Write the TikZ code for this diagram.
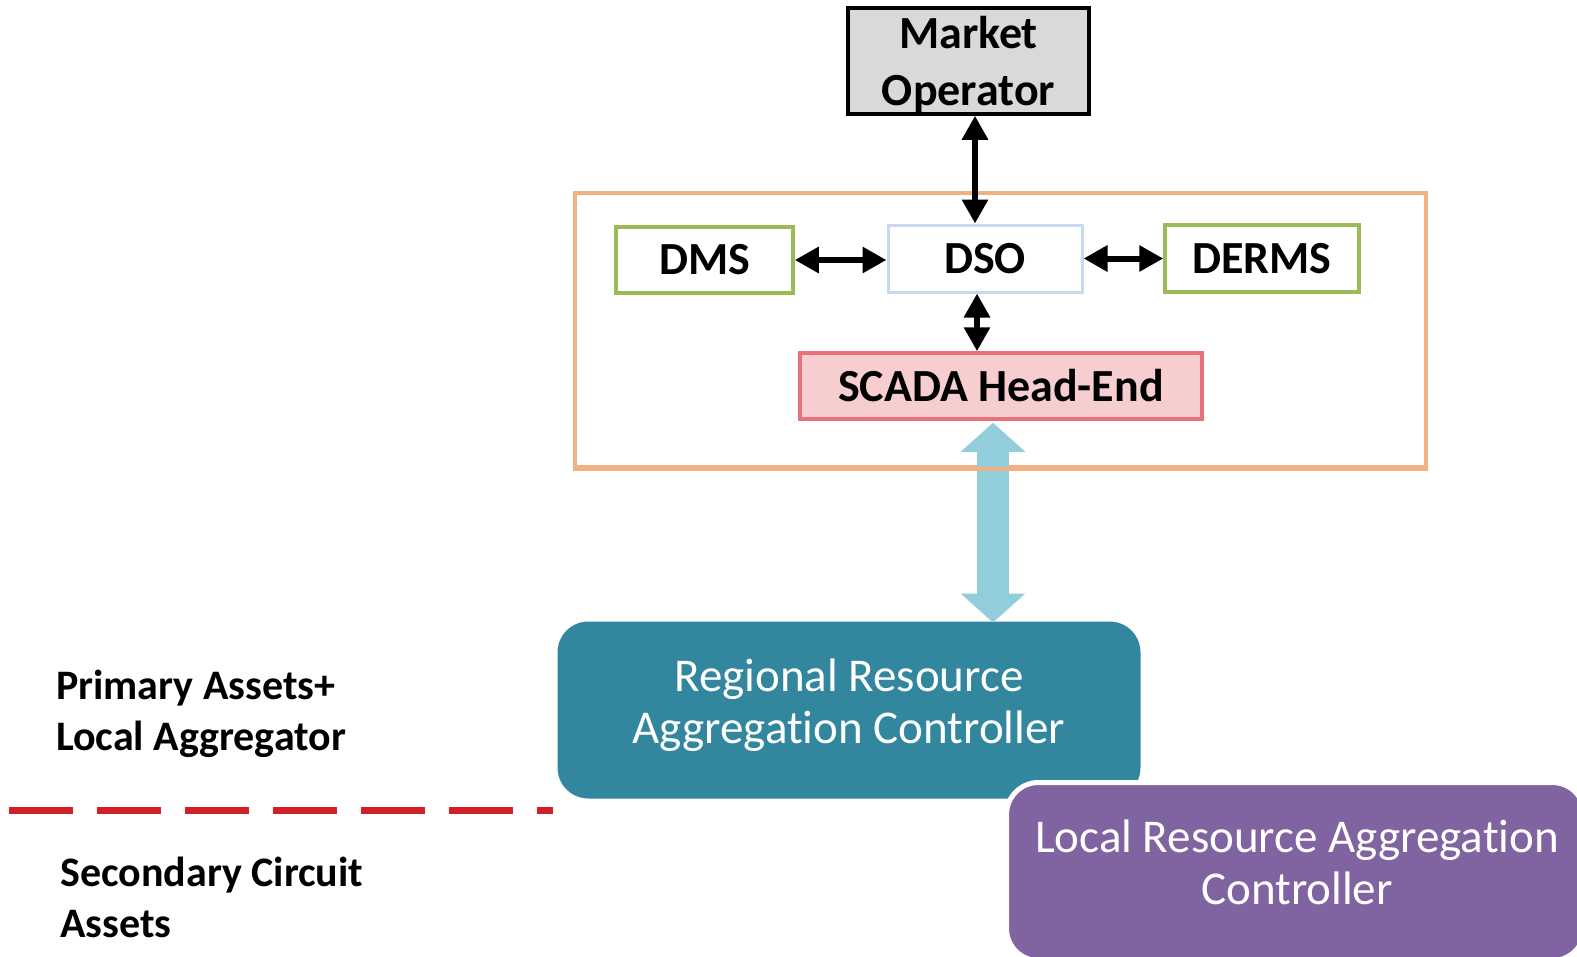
\documentclass[tikz,border=0pt]{standalone}
\usepackage{fontspec}
\setmainfont{Carlito}[Ligatures={NoCommon,NoRequired,NoContextual},Contextuals=NoAlternate]
\usetikzlibrary{arrows.meta}
\definecolor{mogray}{HTML}{D9D9D9}
\definecolor{orangeline}{RGB}{241,177,128}
\definecolor{greenline}{HTML}{9BBB59}
\definecolor{bluelinelight}{RGB}{198,217,241}
\definecolor{scadafill}{RGB}{247,206,208}
\definecolor{scadaline}{RGB}{233,113,121}
\definecolor{arrowblue}{RGB}{146,205,220}
\definecolor{tealbox}{RGB}{50,134,157}
\definecolor{purplebox}{RGB}{128,100,162}
\definecolor{dashred}{RGB}{210,32,39}
\begin{document}
\begin{tikzpicture}[x=1pt,y=-1pt,
  boldtext/.style={font=\fontsize{46}{57}\selectfont\bfseries, align=center},
  sidetext/.style={font=\fontsize{42}{51}\selectfont\bfseries, align=left, inner sep=0pt},
  boxtext/.style={font=\fontsize{47}{52}\selectfont, text=white, align=center},
  plainbox/.style={draw, line width=3.5pt, inner sep=0pt, boldtext},
  dblarrow/.style={line width=6pt, {Triangle[width=25pt,length=24pt]}-{Triangle[width=25pt,length=24pt]}},
  bigarrow/.style={line width=32pt, draw=arrowblue, {Triangle[width=63pt,length=29pt]}-{Triangle[width=63pt,length=29pt]}}
]
\useasboundingbox (0,0) rectangle (1577,956);
\clip (0,0) rectangle (1577,956);

% container
\node[draw=orangeline, line width=3.5pt, minimum width=851pt, minimum height=274pt, inner sep=0pt] (container) at (1000.5,330) {};

% boxes
\node[plainbox, fill=mogray, draw=black, minimum width=241pt, minimum height=106pt] (Market) at (968.5,61) {};
\node[boldtext, inner sep=0pt] (MarketText) at ([yshift=-3pt]Market.center) {Market\\Operator};
\node[plainbox, draw=greenline, minimum width=177pt, minimum height=66pt] (DMS) at (704.5,260) {DMS};
\node[plainbox, draw=bluelinelight, line width=3pt, minimum width=194pt, minimum height=67pt] (DSO) at (985,258.5) {DSO};
\node[plainbox, draw=greenline, minimum width=194pt, minimum height=67pt] (DERMS) at (1262,258.5) {DERMS};
\node[plainbox, draw=scadaline, fill=scadafill, minimum width=402pt, minimum height=66pt] (SCADA) at (1001,386) {SCADA Head-End};

% black arrows
\draw[dblarrow] ([xshift=6.5pt]Market.south) -- ([xshift=-10pt]DSO.north);
\draw[dblarrow] (DMS.east) -- (DMS.east -| DSO.west);
\draw[dblarrow] (DSO.east) -- (DSO.east -| DERMS.west);
\draw[dblarrow] ([xshift=-8pt]DSO.south) -- ([xshift=-24pt]SCADA.north);

% regional box
\node[draw=white, line width=3pt, fill=tealbox, rounded corners=32pt, minimum width=586pt, minimum height=180pt] (Regional) at (849,710) {};
\node[boxtext, inner sep=0pt] (RegionalText) at ([yshift=5pt]Regional.center) {Regional Resource\\Aggregat\kern0pt ion Controller};

% big blue arrow
\draw[bigarrow] ([xshift=-8pt,yshift=-2pt]SCADA.south) -- ([xshift=144pt,yshift=-4pt]Regional.north);
% orange line over the arrow
\draw[orangeline, line width=3.5pt] (container.south west) -- (container.south east);

% local box
\node[draw=white, line width=5pt, fill=purplebox, rounded corners=32pt, minimum width=578pt, minimum height=178pt, anchor=north west] (Local) at (1004,780) {};
\node[boxtext, inner sep=0pt] (LocalText) at (1297,862) {Local Resource Aggregat\kern0pt ion\\Controller};

% dashed separator
\coordinate (dashA) at (9,810);
\coordinate (dashB) at (553,810);
\draw[dashred, line width=7pt, dash pattern=on 64pt off 24pt] (dashA) -- (dashB);

% side labels
\node[sidetext, anchor=west] (upper) at (56,714) {Primary Assets+\\Local Aggregator};
\node[sidetext, anchor=west] (lower) at (60,897) {Secondary Circuit\\Assets};
\end{tikzpicture}
\end{document}
